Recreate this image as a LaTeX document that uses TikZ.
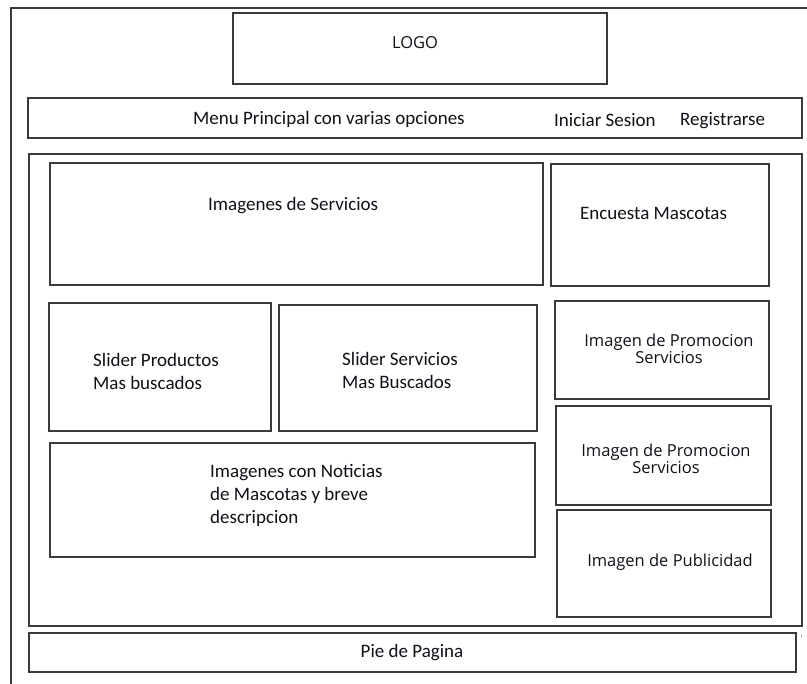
\documentclass[tikz,border=0pt]{standalone}
\usepackage{fontspec}
\setmainfont{Carlito}
\newfontfamily\osfont{Open Sans}
\definecolor{linec}{HTML}{3A3A3A}
\definecolor{txtc}{HTML}{101018}
\tikzset{
  box/.style={draw=linec, line width=1.3pt, rectangle, inner sep=0pt, outer sep=0pt, anchor=north west},
  lbl/.style={text=txtc, inner sep=0pt, font=\fontsize{19}{23}\selectfont},
  lblos/.style={text=txtc, inner sep=0pt, align=center, font=\osfont\fontsize{16.5}{17}\selectfont},
}
\newcommand{\mybox}[5]{\node[box, minimum width={(#4-#2)*1pt}, minimum height={(#5-#3)*1pt}] (#1) at (#2,#3) {};}
\begin{document}
\begin{tikzpicture}[x=1pt,y=-1pt]
\useasboundingbox (0,0) rectangle (807,684);
% outer frame (extends past the right and bottom edges)
\coordinate (fbl) at (11,690);
\coordinate (ftl) at (11,8);
\coordinate (ftr) at (812,8);
\draw[linec, line width=1.3pt] (fbl) -- (ftl) -- (ftr);
\mybox{logo}{233}{13}{607}{84}
\mybox{menu}{28}{98}{802}{138}
\mybox{content}{29}{154}{802}{626}
\mybox{imgserv}{50}{163}{543}{285}
\mybox{encuesta}{551}{164}{769}{286}
\mybox{sliderprod}{49}{303}{271}{431}
\mybox{sliderserv}{279}{305}{537}{431}
\mybox{noticias}{50}{443}{535}{557}
\mybox{promoA}{555}{301}{769}{399}
\mybox{promoB}{556}{406}{771}{505}
\mybox{publi}{557}{510}{771}{617}
\mybox{pie}{29}{633}{796}{672}
\fill[linec] (801.5,636) circle (0.6pt);
% texts
\node[lbl, font=\osfont\fontsize{16.5}{17}\selectfont] (tlogo) at (415,43) {LOGO};
\node[lbl, anchor=west] (tmenu) at (193,119.5) {Menu Principal con varias opciones};
\node[lbl, anchor=west] (tini) at (554,120.5) {Iniciar Sesion};
\node[lbl, anchor=west] (treg) at (680,120.5) {Registrarse};
\node[lbl, anchor=west] (timgserv) at (208,205.5) {Imagenes de Servicios};
\node[lbl, anchor=west] (tenc) at (580,213.5) {Encuesta Mascotas};
\node[lbl, anchor=west, align=left] (tsp) at (93,371) {Slider Productos\\Mas buscados};
\node[lbl, anchor=west, align=left] (tss) at (342,370) {Slider Servicios\\Mas Buscados};
\node[lbl, anchor=west, align=left] (tnot) at (210,495.5) {Imagenes con Noticias\\de Mascotas y breve\\descripcion};
\node[lblos] (tpa) at (669,348.5) {Imagen de Promocion\\Servicios};
\node[lblos] (tpb) at (666,458.5) {Imagen de Promocion\\Servicios};
\node[lblos] (tpub) at (670,562) {Imagen de Publicidad};
\node[lbl] (tpie) at (412,652.5) {Pie de Pagina};
\end{tikzpicture}
\end{document}
